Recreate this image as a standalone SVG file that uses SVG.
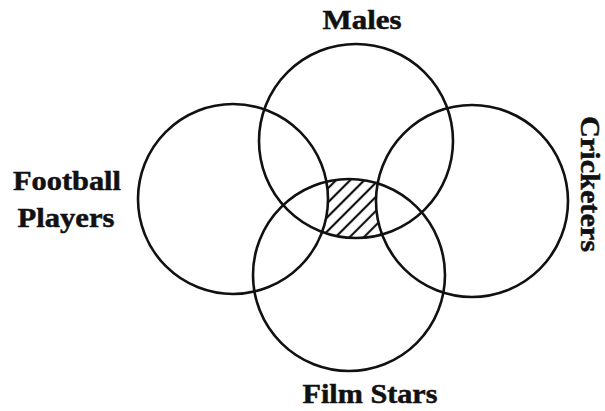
<svg xmlns="http://www.w3.org/2000/svg" width="605" height="411" viewBox="0 0 605 411">
<style>
.c{fill:none;stroke:#111;stroke-width:2.6}
.t{font-family:"Liberation Serif","Times New Roman",serif;font-weight:bold;font-size:28px;fill:#111;stroke:#111;stroke-width:0.5;text-anchor:middle}
</style>
<defs>
<pattern id="hatch" patternUnits="userSpaceOnUse" width="10" height="10" patternTransform="rotate(45)">
<line x1="5" y1="0" x2="5" y2="10" stroke="#111" stroke-width="2.2"/>
</pattern>
<clipPath id="clipFilm"><circle cx="349" cy="275" r="96"/></clipPath>
<mask id="shade" maskUnits="userSpaceOnUse" x="0" y="0" width="605" height="411">
<g clip-path="url(#clipFilm)">
<circle cx="356" cy="141" r="97" fill="#fff"/>
<circle cx="233" cy="199" r="95" fill="#000"/>
<circle cx="472" cy="201" r="96" fill="#000"/>
</g>
</mask>
</defs>
<rect x="300" y="160" width="110" height="100" fill="url(#hatch)" mask="url(#shade)"/>
<g id="males"><circle class="c" cx="356" cy="141" r="97"/><text class="t" x="362" y="29" textLength="79" lengthAdjust="spacingAndGlyphs">Males</text></g>
<g id="football"><circle class="c" cx="233" cy="199" r="95"/><text class="t" x="67" y="190" textLength="108" lengthAdjust="spacingAndGlyphs">Football</text><text class="t" x="66" y="227" textLength="97" lengthAdjust="spacingAndGlyphs">Players</text></g>
<g id="cricketers"><circle class="c" cx="472" cy="201" r="96"/><text class="t" transform="translate(581,184) rotate(90)" textLength="136" lengthAdjust="spacingAndGlyphs">Cricketers</text></g>
<g id="filmstars"><circle class="c" cx="349" cy="275" r="96"/><text class="t" x="370" y="403" textLength="135" lengthAdjust="spacingAndGlyphs">Film Stars</text></g>
<g id="connectors"></g>
</svg>
